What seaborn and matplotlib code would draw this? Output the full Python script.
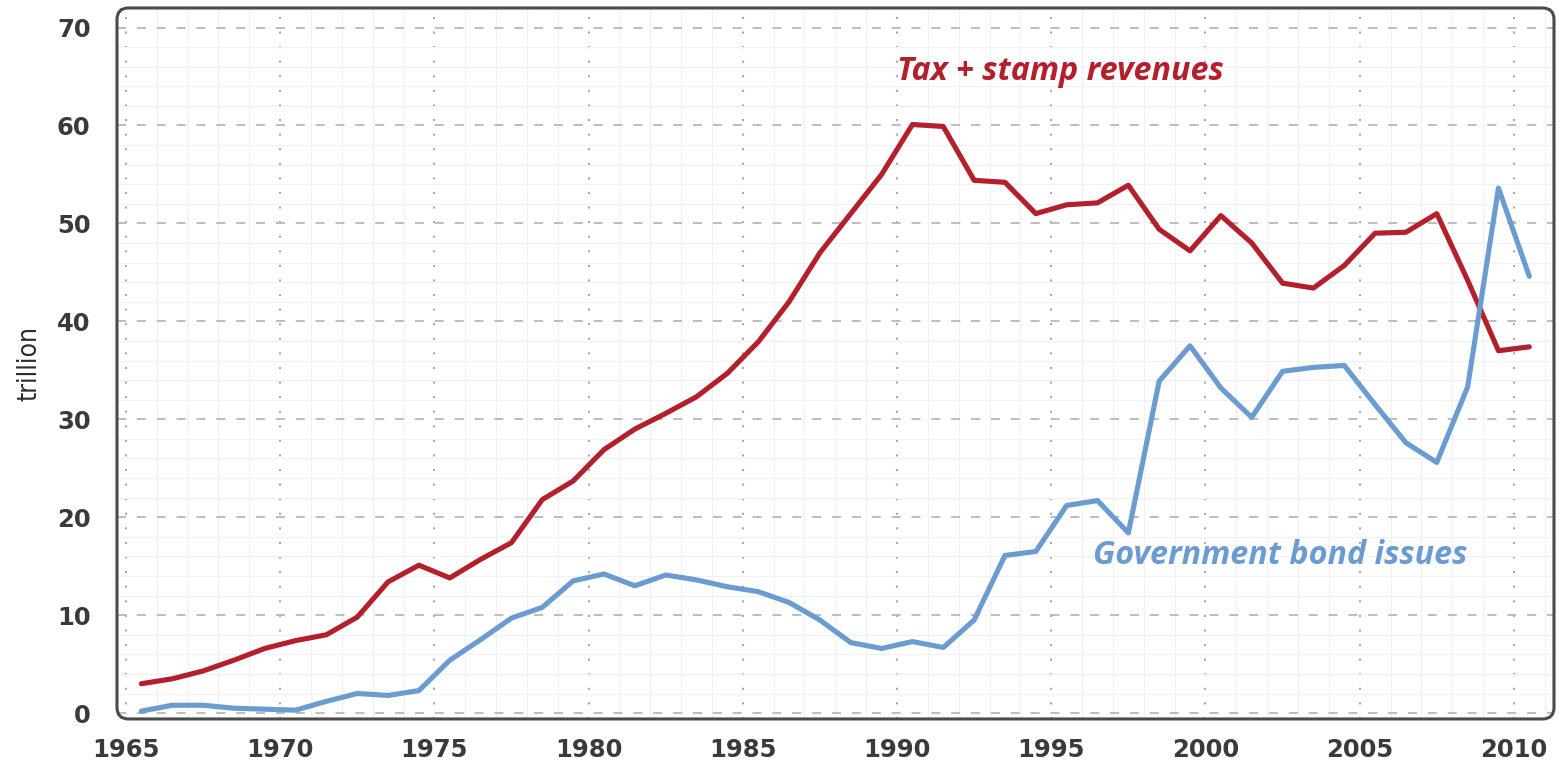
import matplotlib
matplotlib.use("Agg")
import matplotlib.pyplot as plt
import pandas as pd
import seaborn as sns
from matplotlib.patches import FancyBboxPatch
from matplotlib.ticker import MultipleLocator

# fiscal years, plotted at mid-year
years = [y + 0.5 for y in range(1965, 2011)]

tax_stamp = [
    3.0, 3.5, 4.3, 5.4, 6.6, 7.4, 8.0, 9.8, 13.4, 15.1,
    13.8, 15.7, 17.4, 21.8, 23.7, 26.9, 29.0, 30.6, 32.3, 34.7,
    37.9, 42.0, 47.0, 51.0, 55.0, 60.1, 59.9, 54.4, 54.2, 51.0,
    51.9, 52.1, 53.9, 49.4, 47.2, 50.8, 48.0, 43.9, 43.4, 45.7,
    49.0, 49.1, 51.0, 44.2, 37.0, 37.4,
]

bond_issues = [
    0.2, 0.8, 0.8, 0.5, 0.4, 0.3, 1.2, 2.0, 1.8, 2.3,
    5.4, 7.5, 9.7, 10.8, 13.5, 14.2, 13.0, 14.1, 13.6, 12.9,
    12.4, 11.3, 9.5, 7.2, 6.6, 7.3, 6.7, 9.5, 16.1, 16.5,
    21.2, 21.7, 18.4, 33.9, 37.5, 33.2, 30.2, 34.9, 35.3, 35.5,
    31.5, 27.6, 25.6, 33.3, 53.6, 44.6,
]

RED = "#B3202C"
BLUE = "#6A9CD2"
DARK = "#4a4a4a"

df = pd.DataFrame({"year": years, "Tax + stamp revenues": tax_stamp,
                   "Government bond issues": bond_issues})
long = df.melt(id_vars="year", var_name="series", value_name="trillion")

sns.set_theme(style="white")
plt.rcParams["font.family"] = ["Open Sans", "DejaVu Sans"]

fig = plt.figure(figsize=(15.64, 7.66), dpi=100)
ax = fig.add_axes([0.0748, 0.0614, 0.9188, 0.9282])

sns.lineplot(data=long, x="year", y="trillion", hue="series",
             palette={"Tax + stamp revenues": RED, "Government bond issues": BLUE},
             linewidth=3.7, legend=False, ax=ax, zorder=5)

ax.set_xlim(1964.71, 2011.3)
ax.set_ylim(-0.6, 72.0)
ax.set_xticks(range(1965, 2011, 5))
ax.set_yticks(range(0, 71, 10))
ax.xaxis.set_minor_locator(MultipleLocator(1))
ax.yaxis.set_minor_locator(MultipleLocator(2))

ax.grid(False)
ax.grid(True, which="minor", color="#f1f1f1", linewidth=0.8, linestyle="-", zorder=0)
ax.grid(True, which="major", axis="y", color="#b8b8b8", linewidth=1.3,
        linestyle=(0, (5, 6)), zorder=1)
ax.grid(True, which="major", axis="x", color="#a8a8a8", linewidth=1.5,
        linestyle=(0, (1, 6)), zorder=1)

ax.tick_params(axis="y", which="major", direction="out", length=11, width=2,
               color=DARK, labelsize=17.5, labelcolor="#3a3a3a", pad=8)
ax.tick_params(axis="x", which="major", direction="out", length=7, width=2,
               color=DARK, labelsize=17.5, labelcolor="#3a3a3a", pad=7)
ax.tick_params(which="minor", length=0)
for lab in ax.get_xticklabels() + ax.get_yticklabels():
    lab.set_family("DejaVu Sans")
    lab.set_fontweight("bold")

ax.set_xlabel("")
ax.set_ylabel("trillion", fontsize=19, color="#2b2b2b",
              family="DejaVu Sans", fontstretch="condensed")
ax.yaxis.set_label_coords(-0.052, 0.5)

for s in ax.spines.values():
    s.set_visible(False)
frame = FancyBboxPatch((0, 0), 1, 1, boxstyle="round,pad=0,rounding_size=0.008",
                       mutation_aspect=2.02, transform=ax.transAxes,
                       fill=False, ec=DARK, lw=2.2, clip_on=False, zorder=6)
ax.add_patch(frame)

ax.text(1990.0, 65.5, "Tax + stamp revenues", color=RED, fontsize=23.2,
        fontweight="bold", fontstyle="italic", va="center", ha="left")
ax.text(1996.35, 16.1, "Government bond issues", color=BLUE, fontsize=23.2,
        fontweight="bold", fontstyle="italic", va="center", ha="left")

fig.savefig("out.png", dpi=100)
